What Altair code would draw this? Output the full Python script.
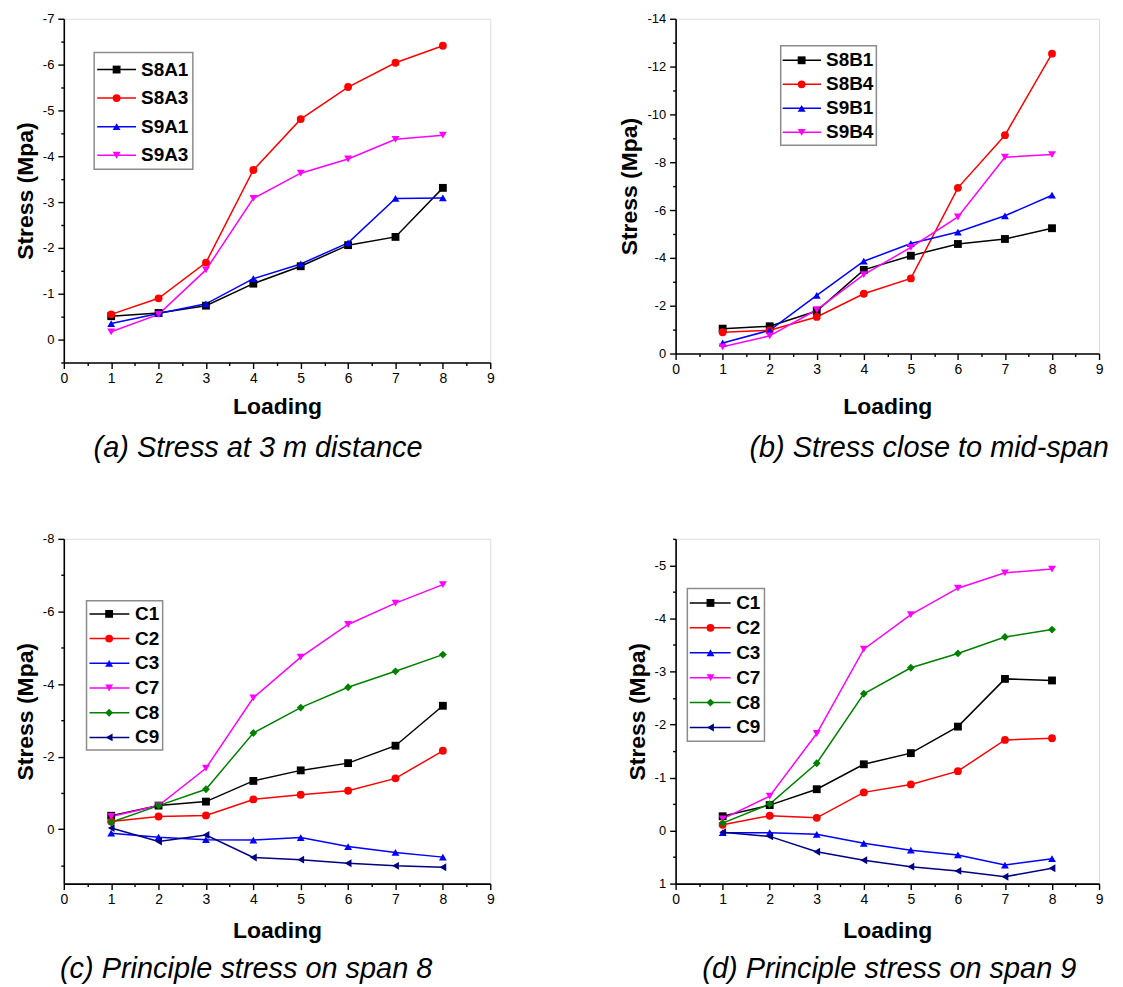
import altair as alt
import pandas as pd

# ---------------- data ----------------
loading = [1, 2, 3, 4, 5, 6, 7, 8]

a_names = ["S8A1", "S8A3", "S9A1", "S9A3"]
a_S8A1 = [-0.51, -0.58, -0.74, -1.22, -1.60, -2.06, -2.24, -3.31]
a_S8A3 = [-0.55, -0.90, -1.68, -3.70, -4.81, -5.51, -6.04, -6.41]
a_S9A1 = [-0.35, -0.57, -0.78, -1.33, -1.65, -2.11, -3.08, -3.09]
a_S9A3 = [-0.17, -0.55, -1.52, -3.08, -3.63, -3.94, -4.37, -4.46]

b_names = ["S8B1", "S8B4", "S9B1", "S9B4"]
b_S8B1 = [-1.04, -1.14, -1.78, -3.50, -4.09, -4.58, -4.79, -5.24]
b_S8B4 = [-0.89, -0.97, -1.53, -2.50, -3.14, -6.93, -9.13, -12.54]
b_S9B1 = [-0.44, -0.97, -2.43, -3.86, -4.60, -5.08, -5.76, -6.62]
b_S9B4 = [-0.28, -0.74, -1.83, -3.30, -4.44, -5.71, -8.21, -8.32]

c_names = ["C1", "C2", "C3", "C7", "C8", "C9"]
c_C1 = [-0.37, -0.65, -0.76, -1.33, -1.62, -1.82, -2.30, -3.40]
c_C2 = [-0.21, -0.35, -0.38, -0.82, -0.95, -1.06, -1.40, -2.16]
c_C3 = [0.11, 0.22, 0.29, 0.30, 0.23, 0.48, 0.64, 0.77]
c_C7 = [-0.35, -0.65, -1.68, -3.62, -4.74, -5.64, -6.23, -6.74]
c_C8 = [-0.19, -0.65, -1.10, -2.65, -3.35, -3.91, -4.35, -4.81]
c_C9 = [-0.03, 0.34, 0.16, 0.78, 0.84, 0.94, 1.01, 1.05]

d_names = ["C1", "C2", "C3", "C7", "C8", "C9"]
d_C1 = [-0.27, -0.48, -0.78, -1.25, -1.46, -1.96, -2.86, -2.83]
d_C2 = [-0.11, -0.28, -0.24, -0.72, -0.87, -1.12, -1.71, -1.74]
d_C3 = [0.04, 0.04, 0.07, 0.24, 0.37, 0.46, 0.65, 0.53]
d_C7 = [-0.22, -0.65, -1.83, -3.42, -4.07, -4.57, -4.86, -4.93]
d_C8 = [-0.14, -0.50, -1.27, -2.58, -3.07, -3.34, -3.65, -3.79]
d_C9 = [0.03, 0.11, 0.40, 0.56, 0.68, 0.76, 0.87, 0.71]

captions = [
    "(a) Stress at 3 m distance",
    "(b) Stress close to mid-span",
    "(c) Principle stress on span 8",
    "(d) Principle stress on span 9",
]

x_ticks = [i * 0.5 for i in range(19)]          # 0 .. 9, labels on integers
a_yticks = [-7 + i * 0.5 for i in range(16)]    # -7 .. 0.5
b_yticks = [-14 + i for i in range(15)]         # -14 .. 0
c_yticks = [-8 + i for i in range(10)]          # -8 .. 1
d_yticks = [-5.5 + i * 0.5 for i in range(14)]  # -5.5 .. 1

# ---------------- styles ----------------
COL4 = ["#000000", "#ff0000", "#0000ff", "#ff00ff"]
SHP4 = ["square", "circle", "triangle-up", "triangle-down"]
COL6 = ["#000000", "#ff0000", "#0000ff", "#ff00ff", "#008000", "#000080"]
SHP6 = ["square", "circle", "triangle-up", "triangle-down", "diamond", "triangle-left"]

FONT = "Liberation Sans"

# legend box layout in pixels, relative to each plot area (style only)
LEG_A = dict(box=(30.5, 129.5, 34, 151), line=(33.5, 72.5), mark=53, text=77.5, rows=(51, 137))
LEG_B = dict(box=(105.5, 201.5, 27, 127), line=(107.5, 146), mark=126.5, text=151, rows=(41.7, 114))
LEG_C = dict(box=(22.8, 99.2, 62, 212), line=(25.8, 65.8), mark=45.5, text=71.5, rows=(75.3, 199.3))
LEG_D = dict(box=(11.8, 89.2, 49.7, 203), line=(14.2, 55.2), mark=35, text=60.8, rows=(64.3, 189.3))


def major_expr(step):
    return f"abs(datum.value % {step}) < 1e-9"


def x_axis(title_pad):
    return alt.Axis(
        values=x_ticks,
        title="Loading",
        labelExpr=f"{major_expr(1)} ? toString(datum.value) : ''",
        tickSize={"condition": {"test": major_expr(1), "value": 6}, "value": 3},
        grid=False,
        labelFlush=False,
        labelOverlap=False,
        labelFont=FONT,
        labelFontSize=14,
        labelColor="#000000",
        labelPadding=3,
        titleFont=FONT,
        titleFontSize=23,
        titleFontWeight="bold",
        titleColor="#000000",
        titlePadding=title_pad,
        domainColor="#000000",
        domainWidth=1.6,
        tickColor="#000000",
        tickWidth=1.4,
    )


def y_axis(values, step):
    return alt.Axis(
        values=values,
        title="Stress (Mpa)",
        labelExpr=f"{major_expr(step)} ? toString(datum.value) : ''",
        tickSize={"condition": {"test": major_expr(step), "value": 6}, "value": 3},
        grid=False,
        labelFlush=False,
        labelOverlap=False,
        labelFont=FONT,
        labelFontSize=13,
        labelColor="#000000",
        labelPadding=4,
        titleFont=FONT,
        titleFontSize=23,
        titleFontWeight="bold",
        titleColor="#000000",
        titlePadding=5,
        domainColor="#000000",
        domainWidth=1.6,
        tickColor="#000000",
        tickWidth=1.4,
    )


def legend_layers(names, colors, shapes, lg):
    n = len(names)
    leg_df = pd.DataFrame({"series": names, "idx": list(range(n))})
    ych = alt.Y("idx:Q", scale=alt.Scale(domain=[0, n - 1], range=list(lg["rows"])), axis=None)
    cscale = alt.Scale(domain=names, range=colors)
    bx0, bx1, by0, by1 = lg["box"]
    box = alt.Chart(leg_df).transform_filter(alt.datum.idx == 0).mark_rect(
        fill="#ffffff", stroke="#8c8c8c", strokeWidth=1.5
    ).encode(x=alt.value(bx0), x2=alt.value(bx1), y=alt.value(by0), y2=alt.value(by1))
    lx0, lx1 = lg["line"]
    segs = alt.Chart(leg_df).mark_rule(strokeWidth=1.5).encode(
        x=alt.value(lx0), x2=alt.value(lx1), y=ych,
        color=alt.Color("series:N", scale=cscale, legend=None),
    )
    marks = alt.Chart(leg_df).mark_point(filled=True, size=62, opacity=1).encode(
        x=alt.value(lg["mark"]), y=ych,
        color=alt.Color("series:N", scale=cscale, legend=None),
        shape=alt.Shape("series:N", scale=alt.Scale(domain=names, range=shapes), legend=None),
    )
    labels = alt.Chart(leg_df).mark_text(
        align="left", baseline="middle", font=FONT, fontSize=19, fontWeight="bold",
        color="#000000",
    ).encode(x=alt.value(lg["text"]), y=ych, text="series:N")
    return alt.layer(box, segs, marks, labels)


def panel(names, series, colors, shapes, ydomain, yticks, ystep, w, h,
          lg, caption, dx, xtitle_pad=10, cap_offset=16):
    rows = []
    for n, vals in zip(names, series):
        for xv, yv in zip(loading, vals):
            rows.append({"loading": xv, "stress": yv, "series": n})
    df = pd.DataFrame(rows)

    base = alt.Chart(df).encode(
        x=alt.X("loading:Q", scale=alt.Scale(domain=[0, 9], nice=False, zero=False),
                axis=x_axis(xtitle_pad)),
        y=alt.Y("stress:Q",
                scale=alt.Scale(domain=ydomain, reverse=True, nice=False, zero=False),
                axis=y_axis(yticks, ystep)),
    )

    lines = base.mark_line(strokeWidth=1.5).encode(
        color=alt.Color("series:N", scale=alt.Scale(domain=names, range=colors),
                        legend=None),
    )

    pts = []
    for n, col, shp in zip(names, colors, shapes):
        pts.append(
            base.transform_filter(alt.datum.series == n).mark_point(
                filled=True, shape=shp, size=62, color=col, opacity=1
            )
        )

    data_layer = alt.layer(lines, *pts)
    leg = legend_layers(names, colors, shapes, lg)

    return alt.layer(data_layer, leg).resolve_scale(y="independent").properties(
        width=w,
        height=h,
        title=alt.TitleParams(
            caption,
            orient="bottom",
            anchor="middle",
            font=FONT,
            fontSize=29,
            fontStyle="italic",
            fontWeight="normal",
            color="#000000",
            offset=cap_offset,
            dx=dx,
        ),
    )


pa = panel(a_names, [a_S8A1, a_S8A3, a_S9A1, a_S9A3], COL4, SHP4, [-7, 0.5], a_yticks, 1,
           428, 345, LEG_A, captions[0], -19)
pb = panel(b_names, [b_S8B1, b_S8B4, b_S9B1, b_S9B4], COL4, SHP4, [-14, 0], b_yticks, 2,
           425, 336, LEG_B, captions[1], 42, xtitle_pad=19, cap_offset=16)
pc = panel(c_names, [c_C1, c_C2, c_C3, c_C7, c_C8, c_C9], COL6, SHP6, [-8, 1.5], c_yticks, 2,
           428, 346, LEG_C, captions[2], -31, xtitle_pad=13, cap_offset=13)
pd_ = panel(d_names, [d_C1, d_C2, d_C3, d_C7, d_C8, d_C9], COL6, SHP6, [-5.5, 1], d_yticks, 1,
            425, 346, LEG_D, captions[3], 2, xtitle_pad=13, cap_offset=13)

chart = alt.concat(pa, pb, pc, pd_, columns=2, spacing={"row": 177, "column": 186}).properties(
    bounds="flush",
    padding={"left": 5, "top": 2, "right": 5, "bottom": 5},
).resolve_scale(
    color="independent", shape="independent", x="independent", y="independent",
).configure_view(stroke=None).configure(background="#ffffff")

chart.save("out.html", embed_options={"renderer": "svg", "actions": False})
